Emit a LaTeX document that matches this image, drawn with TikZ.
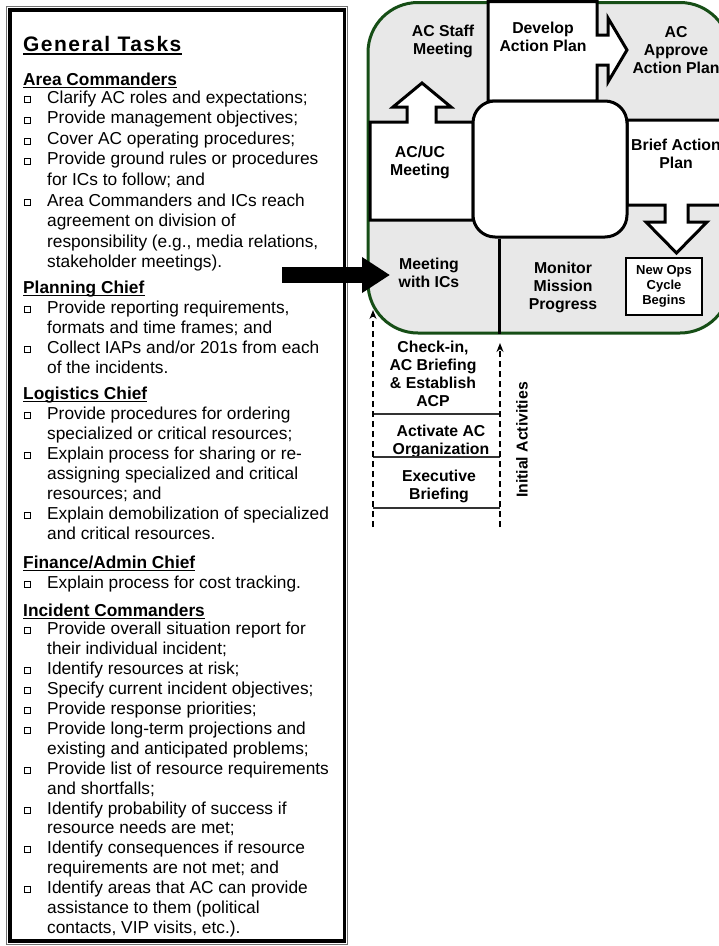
\documentclass[tikz,border=0pt]{standalone}
\usepackage{fontspec}
\setmainfont{Liberation Sans}
\usetikzlibrary{arrows.meta}
\definecolor{dgreen}{RGB}{22,78,22}
\definecolor{panelgray}{RGB}{232,232,232}
\newcommand\lphead[3]{\node[hd] (#1) at (23,#2) {#3};
  \draw[uline] ([yshift=-2.5pt]#1.base west) -- ([yshift=-2.5pt]#1.base east);}
\newcommand\lpbul[3]{\node[txt] (#1) at (47,#2) {#3};
  \node[sqbox] (#1b) at (27.5,#2-3.2) {};}
\newcommand\lpcont[3]{\node[txt] (#1) at (47,#2) {#3};}
\begin{document}
\begin{tikzpicture}[x=1pt,y=-1pt,
  txt/.style={anchor=base west, inner sep=0pt, font=\fontsize{17.3}{20}\selectfont},
  hd/.style={txt, font=\bfseries\fontsize{17.3}{20}\selectfont},
  uline/.style={line width=1.4pt},
  sqbox/.style={draw, line width=0.9pt, minimum size=6pt, inner sep=0pt},
  lab/.style={font=\bfseries\fontsize{15.8}{18}\selectfont, align=center, inner sep=0pt},
  wall/.style={draw=black, line width=3pt, fill=white, line join=miter},
  sepline/.style={line width=1.3pt, draw=black!80},
  dasharrow/.style={line width=1.3pt, dash pattern=on 6pt off 4pt, -{Stealth[length=9pt,width=7pt]}},
]
\useasboundingbox (0,0) rectangle (719,946);

% ---------- left panel ----------
\draw[line width=1pt, black!55] (6.5,6.5) rectangle (347.5,944);
\draw[line width=3.5pt] (10,10) rectangle (344.5,941);

\node[anchor=base west, inner sep=0pt, font=\bfseries\fontsize{21}{24}\selectfont\addfontfeatures{LetterSpace=7}] (gt) at (23,51) {General Tasks};
\draw[uline] ([yshift=-3pt]gt.base west) -- ([yshift=-3pt]gt.base east);

\lphead{h1}{85}{Area Commanders}
\lpbul{a1}{103}{Clarify AC roles and expectations;}
\lpbul{a2}{123.6}{Provide management objectives;}
\lpbul{a3}{144.2}{Cover AC operating procedures;}
\lpbul{a4}{164.8}{Provide ground rules or procedures}
\lpcont{a5}{185.4}{for ICs to follow; and}
\lpbul{a6}{206}{Area Commanders and ICs reach}
\lpcont{a7}{226.6}{agreement on division of}
\lpcont{a8}{247.2}{responsibility (e.g., media relations,}
\lpcont{a9}{267.8}{stakeholder meetings).}
\lphead{h2}{293}{Planning Chief}
\lpbul{p1}{313}{Provide reporting requirements,}
\lpcont{p2}{333}{formats and time frames; and}
\lpbul{p3}{353}{Collect IAPs and/or 201s from each}
\lpcont{p4}{373}{of the incidents.}
\lphead{h3}{399}{Logistics Chief}
\lpbul{g1}{419}{Provide procedures for ordering}
\lpcont{g2}{439}{specialized or critical resources;}
\lpbul{g3}{459}{Explain process for sharing or re-}
\lpcont{g4}{479}{assigning specialized and critical}
\lpcont{g5}{499}{resources; and}
\lpbul{g6}{519}{Explain demobilization of specialized}
\lpcont{g7}{539}{and critical resources.}
\lphead{h4}{568}{Finance/Admin Chief}
\lpbul{f1}{588}{Explain process for cost tracking.}
\lphead{h5}{616}{Incident Commanders}
\lpbul{i1}{634}{Provide overall situation report for}
\lpcont{i2}{654}{their individual incident;}
\lpbul{i3}{674}{Identify resources at risk;}
\lpbul{i4}{694}{Specify current incident objectives;}
\lpbul{i5}{714}{Provide response priorities;}
\lpbul{i6}{734}{Provide long-term projections and}
\lpcont{i7}{754}{existing and anticipated problems;}
\lpbul{i8}{774}{Provide list of resource requirements}
\lpcont{i9}{794}{and shortfalls;}
\lpbul{i10}{814}{Identify probability of success if}
\lpcont{i11}{833}{resource needs are met;}
\lpbul{i12}{853}{Identify consequences if resource}
\lpcont{i13}{873}{requirements are not met; and}
\lpbul{i14}{893}{Identify areas that AC can provide}
\lpcont{i15}{913}{assistance to them (political}
\lpcont{i16}{933}{contacts, VIP visits, etc.).}

% ---------- right diagram ----------
\draw[draw=dgreen, line width=3pt, fill=panelgray, rounded corners=50pt] (368,2.5) rectangle (730,333);

% Develop Action Plan box with right arrow
\draw[wall] (488,1.5) -- (597,1.5) -- (597,35) -- (608,35) -- (608,18) -- (627,50)
  -- (608,82) -- (608,65) -- (597,65) -- (597,101) -- (488,101) -- cycle;
% AC/UC box with up arrow
\draw[wall] (370,220) -- (370,122) -- (407,122) -- (407,107) -- (393,107) -- (422,83)
  -- (451,107) -- (436,107) -- (436,122) -- (473,122) -- (473,220) -- cycle;
% Brief Action Plan box with down arrow
\draw[wall] (627,120) -- (735,120) -- (735,205) -- (688,205) -- (688,222) -- (707,222)
  -- (676.5,253) -- (646,222) -- (665,222) -- (665,205) -- (627,205) -- cycle;
% centre square
\node[wall, rounded corners=22pt, minimum width=154pt, minimum height=136pt, inner sep=0pt] (ctr) at (550,169) {};
\coordinate (mb) at (499,334);
\draw[line width=3pt] (ctr.south -| mb) -- (mb);

% New Ops box
\node[draw, line width=1.5pt, fill=white, minimum width=76pt, minimum height=57pt, inner sep=0pt,
  font=\bfseries\fontsize{13}{15}\selectfont, align=center] (nob) at (664,286.5) {New Ops\\Cycle\\Begins};

% labels
\node[lab] (acs) at (443,41) {AC Staff\\Meeting};
\node[lab] (dap) at (543,37) {Develop\\Action Plan};
\node[lab] (aap) at (676,50) {AC\\Approve\\Action Plan};
\node[lab] (bap) at (676,154) {Brief Action\\Plan};
\node[lab] (acuc) at (420,162) {AC/UC\\Meeting};
\node[lab] (mwi) at (429,273) {Meeting\\with ICs};
\node[lab] (mmp) at (563,287) {Monitor\\Mission\\Progress};

% initial activities
\node[lab] (chk) at (433,374) {Check-in,\\AC Briefing\\\& Establish\\ACP};
\node[lab] (act) at (441,441) {Activate AC\\Organization};
\node[lab] (exb) at (439,486) {Executive\\Briefing};
\node[lab, rotate=90] (ini) at (522,440) {Initial Activities};
\coordinate (s1a) at (373,414); \coordinate (s1b) at (500,414);
\coordinate (s2a) at (373,457); \coordinate (s2b) at (500,457);
\coordinate (s3a) at (373,508); \coordinate (s3b) at (500,508);
\draw[sepline] (s1a) -- (s1b);
\draw[sepline] (s2a) -- (s2b);
\draw[sepline] (s3a) -- (s3b);
\coordinate (d1s) at (373,527); \coordinate (d1e) at (373,310);
\coordinate (d2s) at (500,527); \coordinate (d2e) at (500,343);
\draw[dasharrow] (d1s) -- (d1e);
\draw[dasharrow] (d2s) -- (d2e);

% big arrow
\coordinate (bas) at (282,275); \coordinate (bae) at (390,275);
\draw[line width=16pt, -{Triangle[length=28pt,width=34pt]}] (bas) -- (bae);
\end{tikzpicture}
\end{document}
